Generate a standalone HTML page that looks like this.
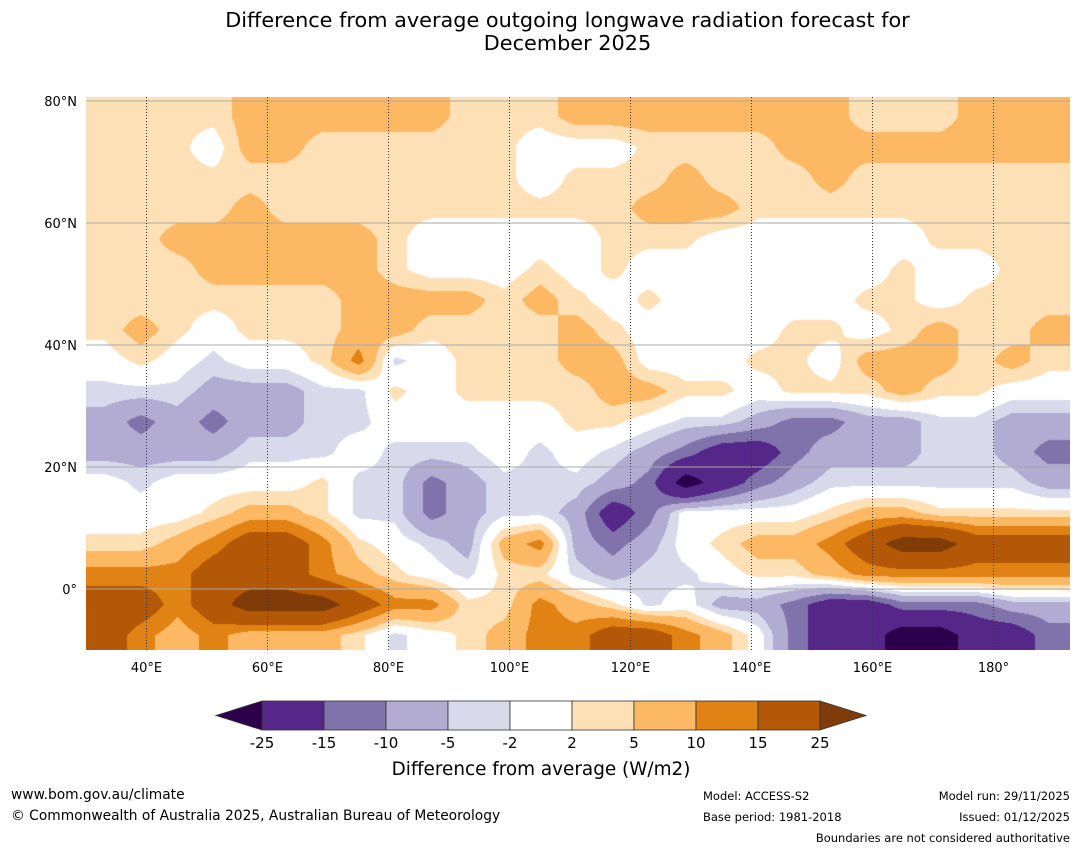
<!DOCTYPE html>
<html><head><meta charset="utf-8"><style>
body{margin:0;background:#fff;font-family:"DejaVu Sans",sans-serif;}
#wrap{position:relative;width:1081px;height:850px;overflow:hidden;}
.t{position:absolute;white-space:nowrap;color:#000;}
</style></head><body>
<div id="wrap">
<div class="t" style="left:0;width:1135px;text-align:center;top:9px;font-size:20.8px;line-height:23px;">Difference from average outgoing longwave radiation forecast for<br>December 2025</div>
<canvas id="map" width="984" height="553" style="position:absolute;left:86px;top:97px;"></canvas>
<svg id="ov" width="1081" height="850" style="position:absolute;left:0;top:0;"></svg>
<div class="t" style="left:11px;top:787px;font-size:13.8px;">www.bom.gov.au/climate</div>
<div class="t" style="left:11px;top:808px;font-size:13.8px;">© Commonwealth of Australia 2025, Australian Bureau of Meteorology</div>
<div class="t" style="left:703px;top:789px;font-size:11.5px;">Model: ACCESS-S2</div>
<div class="t" style="left:703px;top:810px;font-size:11.5px;">Base period: 1981-2018</div>
<div class="t" style="right:11px;top:789px;font-size:11.5px;">Model run: 29/11/2025</div>
<div class="t" style="right:11px;top:810px;font-size:11.5px;">Issued: 01/12/2025</div>
<div class="t" style="right:11px;top:831px;font-size:11.5px;">Boundaries are not considered authoritative</div>
</div>
<script>
// grid: rows 80N..-10 in 5° steps, cols 30E.. in 6° steps (values W/m2)
const r0=[3,3,3,3,7,7,7,7,7,7,3,3,3,7,7,7,7,7,7,7,7,3,3,3,7,7,7];
const r1=[3,3,3,0,7,7,3,3,3,3,3,3,0,0,0,3,3,3,3,7,7,7,7,7,7,7,7];
const r2=[3,3,3,3,3,3,3,3,3,3,3,3,0,3,3,3,7,3,3,3,7,3,3,3,3,3,3];
const r3=[3,3,3,3,7,3,3,3,3,3,3,3,3,3,3,7,7,7,3,3,3,3,3,3,3,3,3];
const r4=[3,3,7,7,7,7,7,7,3,0,0,0,0,0,3,3,3,0,0,0,0,0,0,3,3,3,3];
const r5=[3,3,3,7,7,7,7,7,3,0,0,0,3,0,3,0,0,0,0,0,0,0,3,0,0,3,3];
const r6=[3,3,3,3,3,3,3,7,7,7,7,3,7,3,0,3,0,0,0,0,0,3,3,0,3,3,3];
const r7=[3,7,3,0,3,3,3,7,7,3,3,3,3,7,3,0,0,0,0,3,3,0,3,7,3,3,7];
const r8=[0,3,0,-3,0,0,3,12,-3,0,3,3,3,7,7,0,0,0,3,3,0,7,7,7,3,7,3];
const r9=[-3,-3,-3,-7,-7,-7,-3,-3,3,0,3,3,3,3,7,7,3,3,0,3,3,3,7,3,3,0,0];
const r10=[-7,-12,-7,-12,-7,-7,-3,-3,0,0,0,0,0,3,3,0,-3,-3,-7,-12,-12,-7,-7,-3,-3,-7,-7];
const r11=[-7,-7,-7,-7,-3,-3,-3,0,-3,-3,-3,0,-3,0,-3,-7,-12,-20,-20,-12,-7,-7,-7,-3,-3,-7,-12];
const r12=[0,-3,0,0,0,0,3,-3,-3,-12,-7,-3,-3,-3,-7,-12,-30,-20,-12,-7,-3,-3,-3,-3,-3,-3,-7];
const r13=[0,0,0,3,7,7,3,-3,-3,-12,-7,-3,-3,-7,-20,-12,0,0,0,0,3,7,7,3,3,3,3];
const r14=[3,3,7,12,20,20,12,3,0,-3,-7,7,12,-7,-12,-7,0,3,7,7,12,20,30,30,20,20,20];
const r15=[12,12,12,20,20,20,12,7,3,0,-3,3,3,-3,-7,-3,-3,0,3,3,7,12,12,12,12,12,12];
const r16=[20,20,12,20,30,30,30,20,12,12,3,3,12,7,3,-3,0,-7,-7,-12,-20,-20,-12,-12,-12,-7,-7];
const r17=[20,12,7,12,7,7,7,3,-3,0,3,7,12,12,20,20,12,7,0,-12,-20,-20,-30,-30,-20,-20,-12];
const grid=[r0,r1,r2,r3,r4,r5,r6,r7,r8,r9,r10,r11,r12,r13,r14,r15,r16,r17];
const levels=[-25,-15,-10,-5,-2,2,5,10,15,25];
const levelLabels=["-25","-15","-10","-5","-2","2","5","10","15","25"];
const colors=["#2d004b","#542788","#8073ac","#b2abd2","#d8daeb","#ffffff","#fee0b6","#fdb863","#e08214","#b35806","#7f3b08"];
const latTicks=[80,60,40,20,0];
const lonTicks=[40,60,80,100,120,140,160,180];

const X0=86,W=984,Y0=97,H=553,LON0=30,LONPX=6.05,LATPX=6.1,Y_EQ=589;
const FONT='DejaVu Sans, sans-serif';
const lonX=l=>X0+(l-LON0)*LONPX;
const latY=l=>Y_EQ-l*LATPX;
function hex(c){return [parseInt(c.slice(1,3),16),parseInt(c.slice(3,5),16),parseInt(c.slice(5,7),16)];}
const rgb=colors.map(hex);
const cv=document.getElementById('map');const ctx=cv.getContext('2d');
const img=ctx.createImageData(W,H);
const nr=grid.length,nc=grid[0].length;
for(let py=0;py<H;py++){
  const lat=(Y_EQ-(Y0+py))/LATPX;
  let fr=(77.5-lat)/5;fr=Math.max(0,Math.min(nr-1,fr));
  const i0=Math.floor(fr),i1=Math.min(nr-1,i0+1),tr=fr-i0;
  for(let px=0;px<W;px++){
    const lon=LON0+px/LONPX;
    let fc=(lon-33)/6;fc=Math.max(0,Math.min(nc-1,fc));
    const j0=Math.floor(fc),j1=Math.min(nc-1,j0+1),tc=fc-j0;
    const v=(grid[i0][j0]*(1-tc)+grid[i0][j1]*tc)*(1-tr)+(grid[i1][j0]*(1-tc)+grid[i1][j1]*tc)*tr;
    let k=0;while(k<levels.length&&v>=levels[k])k++;
    const c=rgb[k],o=(py*W+px)*4;
    img.data[o]=c[0];img.data[o+1]=c[1];img.data[o+2]=c[2];img.data[o+3]=255;
  }
}
ctx.putImageData(img,0,0);
const ov=document.getElementById('ov');const NS='http://www.w3.org/2000/svg';
function mk(tag,attrs,parent){const e=document.createElementNS(NS,tag);for(const k in attrs)e.setAttribute(k,attrs[k]);(parent||ov).appendChild(e);return e;}
latTicks.forEach(l=>{
  const y=latY(l);
  const g=mk('line',{x1:X0,x2:X0+W,y1:y,y2:y,stroke:'#aaa','stroke-width':1});
  
  
  const t=mk('text',{x:77,y:y+5,'text-anchor':'end','font-size':13,'font-family':FONT});
  t.textContent=l===0?'0°':l+'°N';
  
  
});
lonTicks.forEach(l=>{
  const x=lonX(l);
  const g=mk('line',{x1:x,x2:x,y1:Y0,y2:Y0+H,stroke:'#333','stroke-width':1,'stroke-dasharray':'1,2'});
  
  
  const t=mk('text',{x:x,y:672,'text-anchor':'middle','font-size':13,'font-family':FONT});
  t.textContent=l===180?'180°':l+'°E';
  
  
});
const CB0=262,CBW=62,CBY=701,CBH=29;
levels.slice(0,-1).forEach((lv,i)=>{
  const r=mk('rect',{x:CB0+i*CBW,y:CBY,width:CBW,height:CBH,fill:colors[i+1],stroke:'#333','stroke-width':0.8});
  
  
});
const lt=mk('polygon',{points:`${CB0},${CBY} ${CB0},${CBY+CBH} ${CB0-46},${CBY+CBH/2}`,fill:colors[0],stroke:'#333','stroke-width':0.8});


const xe=CB0+(levels.length-1)*CBW;
const rt=mk('polygon',{points:`${xe},${CBY} ${xe},${CBY+CBH} ${xe+46},${CBY+CBH/2}`,fill:colors[colors.length-1],stroke:'#333','stroke-width':0.8});


levelLabels.forEach((s,i)=>{
  const t=mk('text',{x:CB0+i*CBW,y:748,'text-anchor':'middle','font-size':15,'font-family':FONT});
  t.textContent=s;
  
  
});
const ct=mk('text',{x:541,y:775,'text-anchor':'middle','font-size':18.4,'font-family':FONT});
ct.textContent='Difference from average (W/m2)';


</script>
</body></html>
